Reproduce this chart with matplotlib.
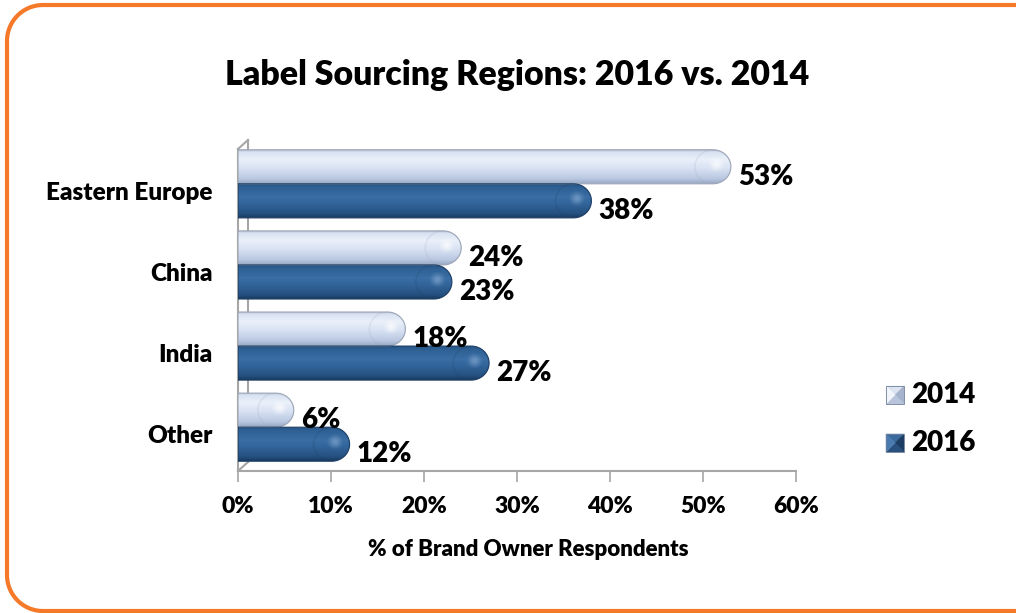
import numpy as np
import matplotlib
matplotlib.use("Agg")
import matplotlib.pyplot as plt
from matplotlib.path import Path
from matplotlib.patches import PathPatch, Polygon, Ellipse
from matplotlib.transforms import IdentityTransform, ScaledTranslation

# ---- data -------------------------------------------------------------
regions = ["Eastern Europe", "China", "India", "Other"]
share_2014 = [53, 24, 18, 6]
share_2016 = [38, 23, 27, 12]
series_names = ["2014", "2016"]
x_ticks = [0, 10, 20, 30, 40, 50, 60]
x_tick_labels = ["0%", "10%", "20%", "30%", "40%", "50%", "60%"]
title = "Label Sourcing Regions: 2016 vs. 2014"
x_title = "% of Brand Owner Respondents"

plt.rcParams["font.family"] = ["Lato", "DejaVu Sans"]
WEIGHT = "heavy"

W, H = 1016, 613
fig = plt.figure(figsize=(W / 100, H / 100), dpi=100)
fig.patch.set_facecolor("white")


def rounded_frame(left, bottom, right, top, rad):
    """Closed rounded-rectangle outline in pixel coordinates."""
    pts = []
    corners = [((right - rad, top - rad), 0, 90), ((left + rad, top - rad), 90, 180),
               ((left + rad, bottom + rad), 180, 270), ((right - rad, bottom + rad), 270, 360)]
    for (cx, cy), a0, a1 in corners:
        t = np.radians(np.linspace(a0, a1, 30))
        pts += list(zip(cx + rad * np.cos(t), cy + rad * np.sin(t)))
    pts.append(pts[0])
    return Path(pts)


# orange frame; its right side runs past the canvas edge
frame = PathPatch(rounded_frame(7, 2, 1055, 608, 36), transform=IdentityTransform(),
                  facecolor="none", edgecolor="#F47A2A", linewidth=3.0, zorder=0)
fig.patches.append(frame)

ax_l, ax_r, ax_t, ax_b = 238, 796, 140, 471
ax = fig.add_axes([ax_l / W, 1 - ax_b / H, (ax_r - ax_l) / W, (ax_b - ax_t) / H])
ax.set_facecolor("none")

n = len(regions)
pos = np.arange(n)
bh = 0.42
ax.set_xlim(0, 60)
ax.set_ylim(n - 0.46, -0.54)

bars14 = ax.barh(pos - bh / 2, share_2014, height=bh, color="none", edgecolor="none")
bars16 = ax.barh(pos + bh / 2, share_2016, height=bh, color="none", edgecolor="none")

px_per_x = (ax_r - ax_l) / 60.0


def cylinder_path(x1, y0, y1, r):
    """Bar outline with a rounded right end; y0 is the upper edge."""
    xb = max(x1 - r, 0.0)
    yc = (y0 + y1) / 2
    hh = (y1 - y0) / 2
    t = np.linspace(-np.pi / 2, np.pi / 2, 48)
    arc = list(zip(xb + r * np.cos(t), yc + hh * np.sin(t)))
    verts = [(0, y0), (xb, y0)] + arc + [(xb, y1), (0, y1), (0, y0)]
    return Path(verts)


def gradient(stops, n_rows=64):
    ys = np.linspace(0, 1, n_rows)
    pts = np.array([s[0] for s in stops])
    cols = np.array([matplotlib.colors.to_rgb(s[1]) for s in stops])
    out = np.stack([np.interp(ys, pts, cols[:, k]) for k in range(3)], axis=-1)
    return out[:, None, :]


grad14 = gradient([(0.0, "#A9B2C3"), (0.08, "#D8E2F2"), (0.3, "#EAF0FA"), (0.55, "#D8E2F3"),
                   (0.85, "#BAC8E1"), (1.0, "#98A8C4")])
grad16 = gradient([(0.0, "#244E7C"), (0.1, "#2D5F93"), (0.4, "#3A6EA4"), (0.6, "#32649A"),
                   (0.88, "#24507F"), (1.0, "#1A3B60")])

r_px = 18
r_data = r_px / px_per_x

for bars, grad, edge, hl in ((bars14, grad14, "#9EA7B8", "#FFFFFF"),
                             (bars16, grad16, "#1E3F66", "#7FA4CE")):
    for b in bars:
        x1 = b.get_width()
        y0 = b.get_y()
        y1 = y0 + b.get_height()
        path = cylinder_path(x1, y0, y1, r_data)
        outline = PathPatch(path, facecolor="none", edgecolor=edge, linewidth=0.8, zorder=4)
        ax.add_patch(outline)
        im = ax.imshow(grad, extent=(0, x1, y1, y0), origin="upper", aspect="auto",
                       interpolation="bilinear", zorder=3)
        im.set_clip_path(outline)
        # cap shading: faint rim and a soft highlight
        yc = (y0 + y1) / 2
        cap = Ellipse((x1 - r_data, yc), width=2 * r_data, height=(y1 - y0),
                      facecolor="none", edgecolor=edge, lw=1.2, alpha=0.18, zorder=4)
        ax.add_patch(cap)
        cap.set_clip_path(outline)
        for k, a in enumerate(np.linspace(0.10, 0.30, 5)):
            s = 1 - k * 0.18
            e = Ellipse((x1 - r_data * 0.8, yc - 0.03), width=r_data * 0.9 * s,
                        height=(y1 - y0) * 0.45 * s, facecolor=hl, edgecolor="none",
                        alpha=a, zorder=5)
            ax.add_patch(e)
            e.set_clip_path(outline)

# value labels
label_off = ScaledTranslation(7 / 100, -10 / 100, fig.dpi_scale_trans)
for bars in (bars14, bars16):
    for b in bars:
        v = b.get_width()
        ax.text(v, b.get_y() + b.get_height() / 2, f"{v:g}%", ha="left", va="center",
                fontsize=20, fontweight=WEIGHT, color="#000000",
                transform=ax.transData + label_off, zorder=6)

# axes styling
for s in ax.spines.values():
    s.set_visible(False)
ax.set_xticks(x_ticks)
ax.set_xticklabels(x_tick_labels, fontsize=16.5, fontweight=WEIGHT)
ax.tick_params(axis="x", length=8, width=1.2, color="#A6A6A6", pad=10)
ax.set_yticks(pos)
ax.set_yticklabels(regions, fontsize=17.5, fontweight=WEIGHT)
ax.tick_params(axis="y", length=0, pad=18)
ytick_off = ScaledTranslation(0, -7 / 100, fig.dpi_scale_trans)
for lab in ax.get_yticklabels():
    lab.set_transform(lab.get_transform() + ytick_off)
ax.set_xlabel(x_title, fontsize=16, fontweight=WEIGHT)
ax.xaxis.set_label_coords((528 - ax_l) / (ax_r - ax_l), -(550 - ax_b) / (ax_b - ax_t))
ax.xaxis.label.set_va("center")

# wall and floor lines
wc = "#A6A6A6"
dx, dy = 10 / (ax_r - ax_l), 9 / (ax_b - ax_t)
kw = dict(transform=ax.transAxes, color=wc, lw=1.5, clip_on=False, zorder=1)
ax.plot([0, 1], [0, 0], **kw)
ax.plot([0, 0], [0, 1 - dy], **kw)
ax.plot([dx, dx], [dy, 1], **kw)
ax.plot([0, dx], [1 - dy, 1], **kw)
ax.plot([0, dx], [0, dy], **kw)

# title
fig.text((ax_l + ax_r) / 2 / W, 1 - 75 / H, title, ha="center", va="center",
         fontsize=24.4, fontweight=WEIGHT)

# legend with bevelled squares
legend_colors = [("#F2F5FB", "#A6B3CC", "#DDE4F1", "#B8C4DA"),
                 ("#4A7BB0", "#1C3C63", "#3A6A9E", "#28507E")]
leg_y = [395, 443]
for (light, dark, side1, side2), name, yy in zip(legend_colors, series_names, leg_y):
    x0, x1 = 886, 904
    y_top, y_bot = H - (yy - 9), H - (yy + 9)
    cx, cy = (x0 + x1) / 2, (y_top + y_bot) / 2
    tris = [([(x0, y_top), (x1, y_top), (cx, cy)], side1),
            ([(x1, y_top), (x1, y_bot), (cx, cy)], dark),
            ([(x0, y_bot), (x1, y_bot), (cx, cy)], side2),
            ([(x0, y_top), (x0, y_bot), (cx, cy)], light)]
    for pts, c in tris:
        fig.patches.append(Polygon(pts, closed=True, facecolor=c, edgecolor=c, lw=0.3,
                                   transform=IdentityTransform()))
    fig.patches.append(Polygon([(x0, y_top), (x1, y_top), (x1, y_bot), (x0, y_bot)], closed=True,
                               facecolor="none", edgecolor="#6F7F99", lw=0.6,
                               transform=IdentityTransform()))
    fig.text(911 / W, 1 - yy / H, name, ha="left", va="center", fontsize=20,
             fontweight=WEIGHT)

fig.savefig("out.png", dpi=100)
